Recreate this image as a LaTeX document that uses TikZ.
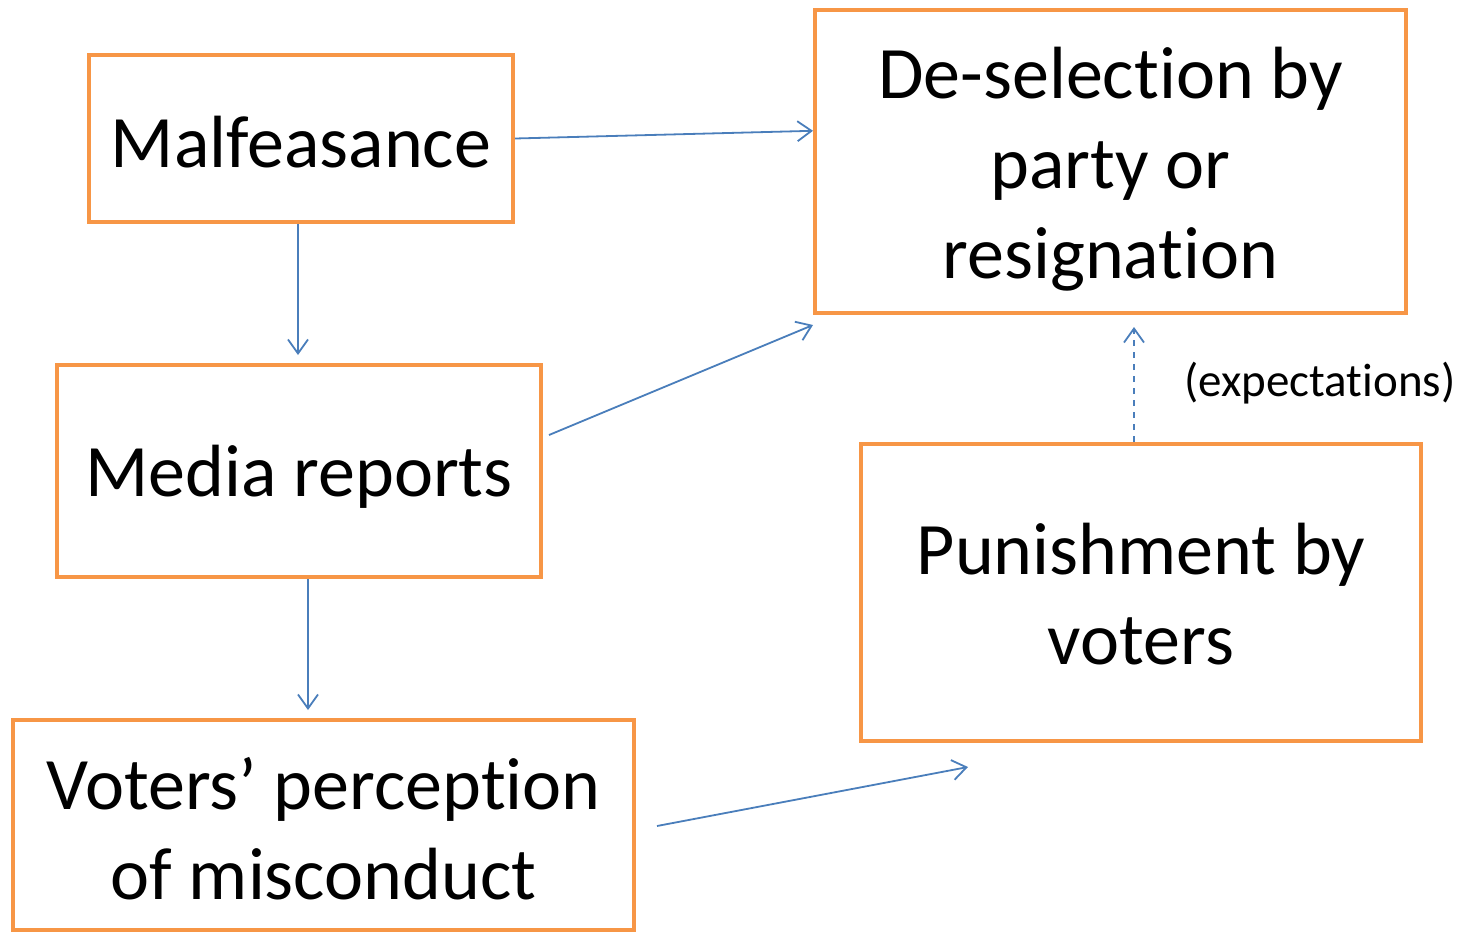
\documentclass[tikz,border=0pt]{standalone}
\usepackage{fontspec}
\setmainfont{Carlito}[Ligatures=NoCommon]
\usetikzlibrary{arrows.meta,calc}
\definecolor{boxorange}{HTML}{F79646}
\definecolor{arrowblue}{HTML}{4A7EBB}
\begin{document}
\begin{tikzpicture}[x=0.5pt,y=-0.5pt,
  box/.style={draw=boxorange,line width=2pt,rectangle,inner sep=0pt},
  txt/.style={align=center,inner sep=0pt,font=\fontsize{37}{45}\selectfont},
  arr/.style={draw=arrowblue,line width=0.9pt,-{Straight Barb[length=7pt,width=10pt]}},
  lbl/.style={font=\fontsize{23.5}{28}\selectfont}]
\useasboundingbox (0,0) rectangle (1461,932);
\node[box,minimum width=212pt,minimum height=83.5pt] (mal) at (301,138.5) {};
\node[box,minimum width=295.5pt,minimum height=151.5pt] (desel) at (1110.5,161.5) {};
\node[box,minimum width=242pt,minimum height=106pt] (media) at (299,471) {};
\node[box,minimum width=280pt,minimum height=148.5pt] (pun) at (1141,592.5) {};
\node[box,minimum width=310.5pt,minimum height=105pt] (voters) at (323.5,825) {};
\node[txt] (malT) at ([yshift=-2pt]mal.center) {Malfeasance};
\node[txt] (deselT) at ([yshift=-4pt]desel.center) {De-selection by\\party or\\resignation};
\node[txt] (mediaT) at ([yshift=-3pt]media.center) {Media reports};
\node[txt] (punT) at ([yshift=-1pt]pun.center) {Punishment by\\voters};
\node[txt] (votersT) at ([yshift=-2pt]voters.center) {Voters’ perception\\of misconduct};
\node[lbl] (exp) at (1320,383) {(expectations)};
\draw[arr] (mal.east) -- ($(desel.north west)!0.4!(desel.south west)$);
\draw[arr] ([shift={(-3,0)}]mal.south) -- ([shift={(-1,-8)}]media.north);
\draw[arr] ([shift={(6,-36)}]media.east) -- ([shift={(0,10)}]desel.south west);
\draw[arr] ([shift={(9,0)}]media.south) -- ([shift={(-15.5,-8)}]voters.north);
\draw[arr] ([shift={(21,1)}]voters.east) -- ([shift={(109,24)}]pun.south west);
\draw[arr,dashed] ([shift={(-7,0)}]pun.north) -- ([shift={(23.5,12)}]desel.south);
\end{tikzpicture}
\end{document}
